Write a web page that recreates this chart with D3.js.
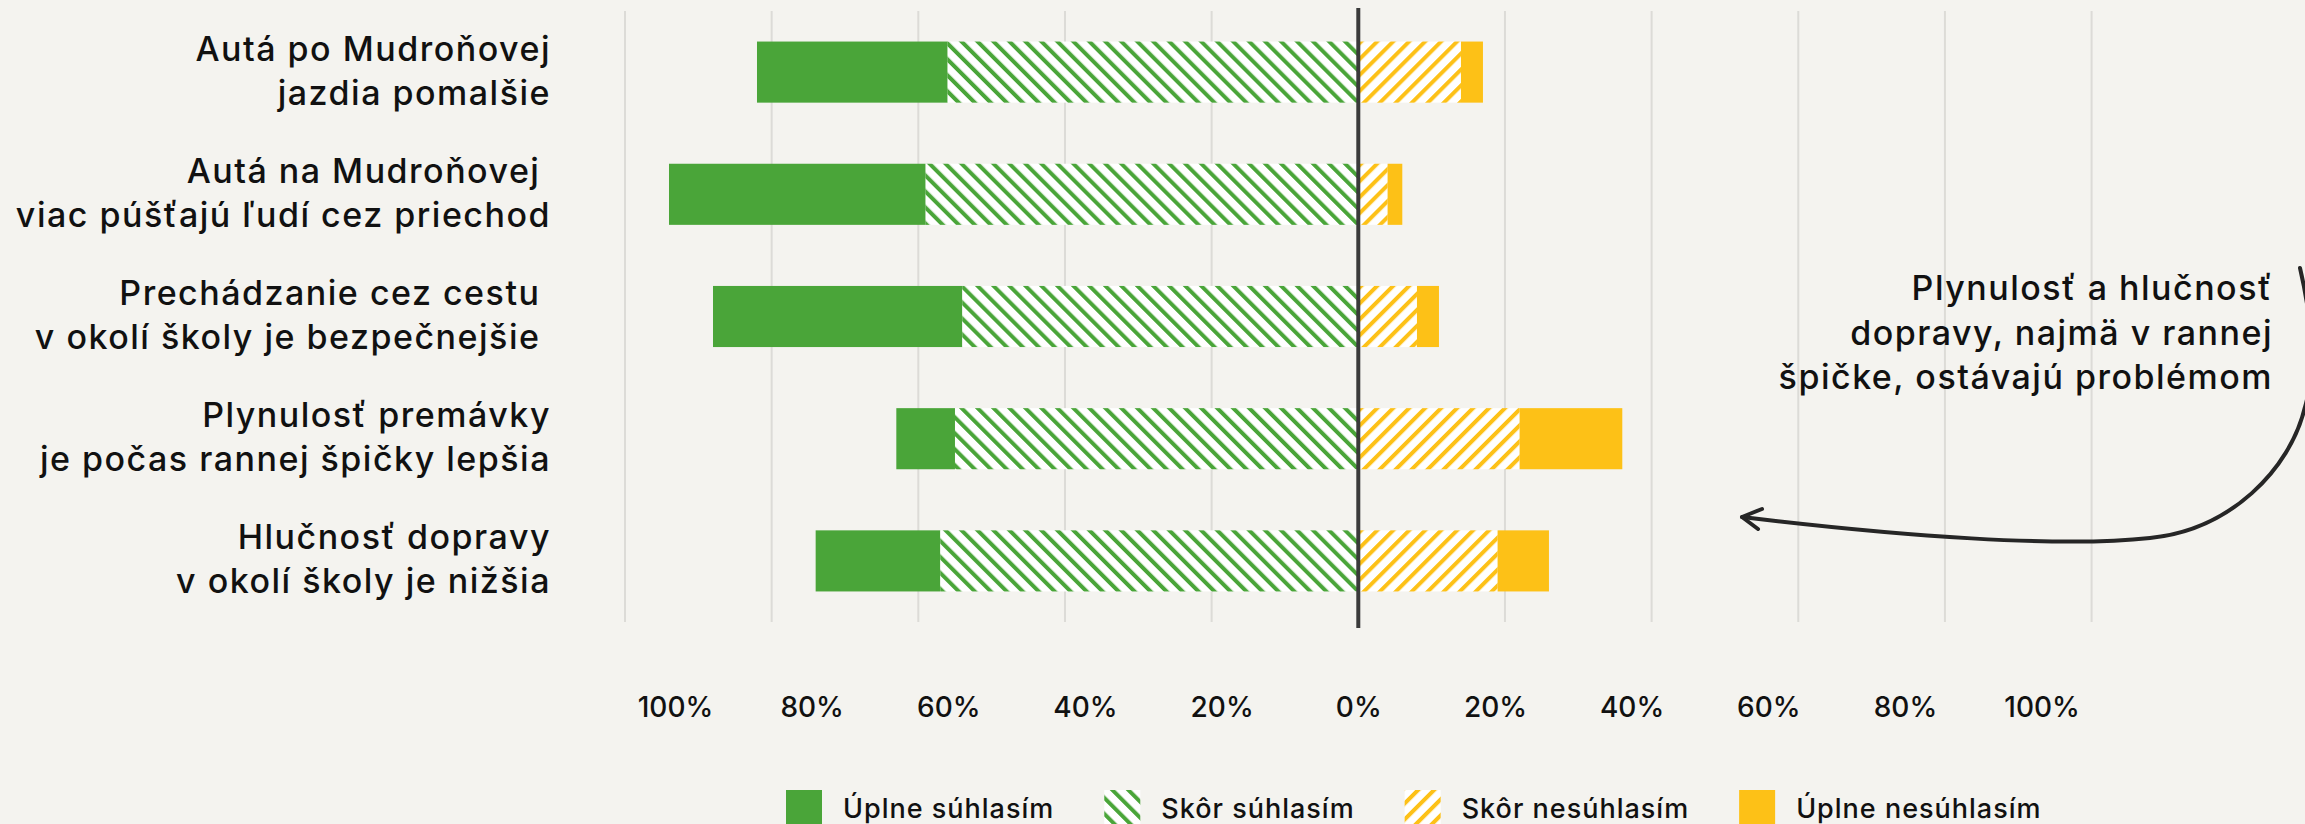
<!DOCTYPE html>
<html>
<head>
<meta charset="utf-8">
<script src="https://cdn.jsdelivr.net/npm/d3@7"></script>
<style>
  html, body { margin: 0; padding: 0; background: #f4f3ef; }
  svg { display: block; }
  text { font-family: Inter, "Noto Sans", sans-serif; fill: #111; font-weight: 500; }
</style>
</head>
<body>
<svg id="chart" width="2305" height="824"></svg>
<script>
// Statements (each split into two display lines)
const categories = [
  ["Autá po Mudroňovej", "jazdia pomalšie"],
  ["Autá na Mudroňovej ", "viac púšťajú ľudí cez priechod"],
  ["Prechádzanie cez cestu ", "v okolí školy je bezpečnejšie "],
  ["Plynulosť premávky", "je počas rannej špičky lepšia"],
  ["Hlučnosť dopravy", "v okolí školy je nižšia"]
];

// Share of answers, in %
const strongAgree    = [26, 35, 34,  8, 17];
const agree          = [56, 59, 54, 55, 57];
const disagree       = [14,  4,  8, 22, 19];
const strongDisagree = [ 3,  2,  3, 14,  7];

const seriesNames = ["Úplne súhlasím", "Skôr súhlasím", "Skôr nesúhlasím", "Úplne nesúhlasím"];

const tickValues = [-100, -80, -60, -40, -20, 0, 20, 40, 60, 80, 100];
const tickLabels = ["100%", "80%", "60%", "40%", "20%", "0%", "20%", "40%", "60%", "80%", "100%"];

const annotationLines = [
  "Plynulosť a hlučnosť",
  "dopravy, najmä v rannej",
  "špičke, ostávajú problémom"
];

const GREEN = "#4aa539";
const YELLOW = "#fdc117";

const svg = d3.select("#chart");

// Hatch patterns
const defs = svg.append("defs");
function hatch(id, color, angle) {
  const p = defs.append("pattern")
    .attr("id", id)
    .attr("patternUnits", "userSpaceOnUse")
    .attr("width", 11.3)
    .attr("height", 11.3)
    .attr("patternTransform", `rotate(${angle})`);
  p.append("rect").attr("width", 11.3).attr("height", 11.3).attr("fill", "#ffffff");
  p.append("rect").attr("width", 4).attr("height", 11.3).attr("fill", color);
}
hatch("hatch-green", GREEN, -45);
hatch("hatch-yellow", YELLOW, 45);

const fills = [GREEN, "url(#hatch-green)", "url(#hatch-yellow)", YELLOW];

// Scales
const x = d3.scaleLinear().domain([-100, 100]).range([625, 2091.6]);
const xLabel = d3.scaleLinear().domain([-100, 100]).range([675, 2041.6]);
const y = d3.scaleBand()
  .domain(d3.range(categories.length))
  .range([11, 622])
  .paddingInner(0.5)
  .paddingOuter(0.25);

// Grid lines
svg.append("g").attr("class", "grid")
  .selectAll("line")
  .data(tickValues.filter(d => d !== 0))
  .join("line")
  .attr("x1", d => x(d)).attr("x2", d => x(d))
  .attr("y1", y.range()[0]).attr("y2", y.range()[1])
  .attr("stroke", "#dcdbd7")
  .attr("stroke-width", 2);

// Diverging stacked segments
const rows = categories.map((c, i) => ({
  i,
  segs: [
    { k: 0, x0: -(agree[i] + strongAgree[i]), x1: -agree[i] },
    { k: 1, x0: -agree[i], x1: 0 },
    { k: 2, x0: 0, x1: disagree[i] },
    { k: 3, x0: disagree[i], x1: disagree[i] + strongDisagree[i] }
  ]
}));

const rowG = svg.append("g").attr("class", "bars")
  .selectAll("g")
  .data(rows)
  .join("g")
  .attr("transform", d => `translate(0,${y(d.i)})`);

rowG.selectAll("rect")
  .data(d => d.segs)
  .join("rect")
  .attr("x", d => x(d.x0))
  .attr("width", d => x(d.x1) - x(d.x0))
  .attr("y", 0)
  .attr("height", y.bandwidth())
  .attr("fill", d => fills[d.k]);

// Zero line
svg.append("line")
  .attr("x1", x(0)).attr("x2", x(0))
  .attr("y1", y.range()[0] - 3).attr("y2", y.range()[1] + 6)
  .attr("stroke", "#3a3a3a")
  .attr("stroke-width", 4);

// Category labels
const labelG = svg.append("g").attr("class", "labels")
  .selectAll("text")
  .data(categories.map((c, i) => ({ c, i })))
  .join("text")
  .attr("text-anchor", "end")
  .attr("font-size", 34)
  .attr("letter-spacing", 1.5)
  .style("white-space", "pre");
labelG.selectAll("tspan")
  .data(d => d.c.map((line, j) => ({ line, j, i: d.i })))
  .join("tspan")
  .attr("x", 551)
  .attr("y", d => y(d.i) + y.bandwidth() / 2 - 11.6 + d.j * 44)
  .text(d => d.line);

// Percentage axis
const axis = d3.axisBottom(xLabel)
  .tickValues(tickValues)
  .tickFormat((d, i) => tickLabels[i])
  .tickSize(0);
const axisG = svg.append("g")
  .attr("transform", "translate(0,717)")
  .call(axis);
axisG.select(".domain").remove();
axisG.selectAll("text")
  .attr("y", 0).attr("dy", null)
  .attr("font-size", 28)
  .attr("font-family", "Inter, 'Noto Sans', sans-serif")
  .attr("font-weight", 500)
  .attr("fill", "#111");

// Annotation
svg.append("text")
  .attr("text-anchor", "end")
  .attr("font-size", 34)
  .attr("letter-spacing", 1.5)
  .selectAll("tspan")
  .data(annotationLines)
  .join("tspan")
  .attr("x", 2273)
  .attr("y", (d, i) => 300 + i * 44.5)
  .text(d => d);

const arrow = d3.path();
arrow.moveTo(2300, 268);
arrow.bezierCurveTo(2312, 320, 2316, 370, 2305, 407);
arrow.bezierCurveTo(2290, 470, 2230, 530, 2150, 538);
arrow.bezierCurveTo(2060, 548, 1900, 536, 1742, 517);
svg.append("path")
  .attr("d", arrow.toString())
  .attr("fill", "none")
  .attr("stroke", "#262626")
  .attr("stroke-width", 4)
  .attr("stroke-linecap", "round");
svg.append("path")
  .attr("d", "M1762,509 L1742,517 L1758,529")
  .attr("fill", "none")
  .attr("stroke", "#262626")
  .attr("stroke-width", 4)
  .attr("stroke-linecap", "round")
  .attr("stroke-linejoin", "round");

// Legend
const legend = svg.append("g").attr("class", "legend");
let lx = 786;
seriesNames.forEach((name, k) => {
  legend.append("rect")
    .attr("x", lx).attr("y", 790)
    .attr("width", 36).attr("height", 36)
    .attr("fill", fills[k]);
  const t = legend.append("text")
    .attr("x", lx + 57).attr("y", 818)
    .attr("font-size", 27)
    .attr("letter-spacing", 1)
    .text(name);
  lx += 57 + t.node().getComputedTextLength() + 50;
});
</script>
</body>
</html>
